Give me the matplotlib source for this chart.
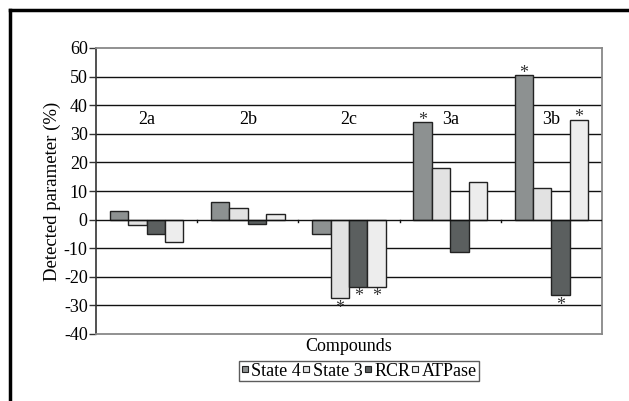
import numpy as np
import matplotlib
matplotlib.use("Agg")
import matplotlib.pyplot as plt
from matplotlib.lines import Line2D

plt.rcParams['font.family'] = ['Liberation Serif', 'DejaVu Serif']
plt.rcParams['axes.unicode_minus'] = False

compounds = ['2a', '2b', '2c', '3a', '3b']
series = ['State 4', 'State 3', 'RCR', 'ATPase']
state4 = [3, 6, -5, 34, 50.5]
state3 = [-2, 4, -27.5, 18, 11]
rcr = [-5, -1.5, -23.5, -11.5, -26.5]
atpase = [-8, 2, -23.5, 13, 35]
# significant differences (*) : (compound index, series index)
stars = [(2, 1), (2, 2), (2, 3), (3, 0), (4, 0), (4, 2), (4, 3)]
colors = ['#8d9191', '#e2e2e2', '#5b5f5f', '#ededed']

values = [state4, state3, rcr, atpase]

fig = plt.figure(figsize=(6.29, 4.01), dpi=100)
ax = fig.add_axes([96/629, 67/401, 506/629, 286/401])

x = np.arange(len(compounds))
w = 1 / 5.5
for i, (name, vals) in enumerate(zip(series, values)):
    ax.bar(x - 2*w + (i + 0.5)*w, vals, width=w, color=colors[i],
           edgecolor='#222222', linewidth=1, label=name, zorder=3)

# asterisks sit right on top of / right under the bar
for ci, si in stars:
    v = values[si][ci]
    xp = x[ci] - 2*w + (si + 0.5)*w
    if v > 0:
        ax.text(xp, v - 1.0, '*', ha='center', va='baseline', fontsize=13, color='#333333', zorder=4)
    else:
        ax.text(xp, v - 5.1, '*', ha='center', va='baseline', fontsize=13, color='#333333', zorder=4)

for i, c in enumerate(compounds):
    ax.text(x[i], 35, c, ha='center', va='center', fontsize=13)

ax.set_xlim(-0.5, len(compounds) - 0.5)
ax.set_ylim(-40, 60)
ax.set_yticks(range(-40, 61, 10))
for yv in range(-30, 51, 10):
    if yv != 0:
        ax.axhline(yv, color='#111111', lw=1, zorder=1)
ax.axhline(0, color='#111111', lw=1, zorder=4)
for b in np.arange(0.5, len(compounds) - 1, 1):
    ax.plot([b, b], [0, -0.9], color='#111111', lw=1, zorder=4)

ax.set_xticks([])
for s in ['top', 'right', 'bottom']:
    ax.spines[s].set_color('#888888')
    ax.spines[s].set_linewidth(1.3)
ax.spines['left'].set_color('#333333')
ax.spines['left'].set_linewidth(1.2)
ax.tick_params(axis='y', direction='out', length=5, width=1, color='#333333',
               labelsize=13, pad=1)

ax.set_ylabel('Detected parameter (%)', fontsize=13.5, labelpad=2)
ax.set_xlabel('Compounds', fontsize=13, labelpad=3)

handles = [Line2D([], [], marker='s', linestyle='none', markersize=4,
                  markerfacecolor=colors[i], markeredgecolor='#222222',
                  markeredgewidth=0.8) for i in range(4)]
leg = fig.legend(handles, series, loc='center', bbox_to_anchor=(359/629, 1 - 371/401),
                 ncol=4, fontsize=13, frameon=True, fancybox=False,
                 handlelength=0.4, handletextpad=0.15, columnspacing=0.1,
                 borderpad=0.1, borderaxespad=0)
leg.get_frame().set_edgecolor('#333333')
leg.get_frame().set_linewidth(1)

# outer frame (top and left edges visible)
fig.add_artist(Line2D([10/629, 1], [1 - 10/401, 1 - 10/401], color='black', lw=2.5))
fig.add_artist(Line2D([10/629, 10/629], [0, 1 - 10/401], color='black', lw=2.5))

fig.savefig('out.png', dpi=100)
